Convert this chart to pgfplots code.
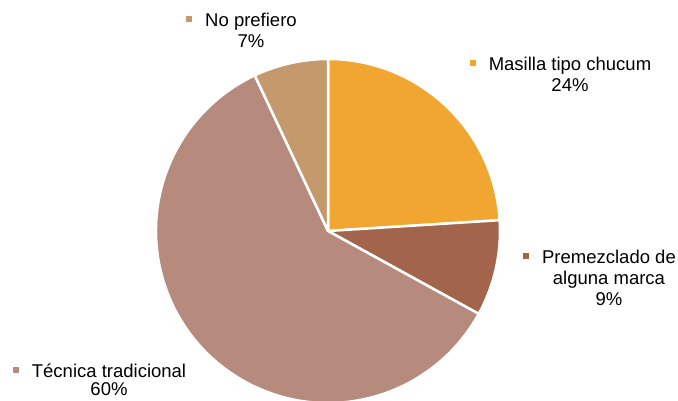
\documentclass[border=0pt]{standalone}
\usepackage{pgfplots}
\pgfplotsset{compat=1.18}
\usepackage{fontspec}
\setmainfont{Liberation Sans}
\definecolor{cA}{HTML}{F0A630}
\definecolor{cB}{HTML}{A3644C}
\definecolor{cC}{HTML}{B68B7E}
\definecolor{cD}{HTML}{C49A6C}
\begin{document}
\begin{tikzpicture}[lbl/.style={anchor=base,font=\fontsize{18.5bp}{22bp}\selectfont,inner sep=0pt}]
\begin{axis}[x=1bp,y=1bp,xmin=0,xmax=678,ymin=0,ymax=401,hide axis,scale only axis,clip=false,anchor=origin,at={(0,0)}]
\addplot[draw=none] coordinates {(0,0) (678,401)};
\def\acc{0}
\pgfplotsforeachungrouped \val/\col in {24/cA,9/cB,60/cC,7/cD}{%
  \pgfmathsetmacro\start{90-3.6*\acc}%
  \pgfmathsetmacro\stop{90-3.6*(\acc+\val)}%
  \edef\tmp{\noexpand\fill[\col,draw=white,line width=2.5bp,line join=round] (axis cs:328,170) -- ++(\start:172bp) arc[start angle=\start,end angle=\stop,radius=172bp] -- cycle;}%
  \tmp
  \pgfmathsetmacro\acc{\acc+\val}%
}
% labels
\node[lbl] (a1) at (axis cs:251,375) {No prefiero};
\node[lbl] at (axis cs:251,354) {7\%};
\node[lbl] (b1) at (axis cs:570,331) {Masilla tipo chucum};
\node[lbl] at (axis cs:570,310) {24\%};
\node[lbl] (c1) at (axis cs:609,138) {Premezclado de};
\node[lbl] at (axis cs:609,117) {alguna marca};
\node[lbl] at (axis cs:609,96) {9\%};
\node[lbl] (d1) at (axis cs:109,24) {Técnica tradicional};
\node[lbl] at (axis cs:109,6) {60\%};
\fill[cD] ([xshift=-13bp,yshift=4bp]a1.base west) rectangle ++(-6bp,6bp);
\fill[cA] ([xshift=-13bp,yshift=4bp]b1.base west) rectangle ++(-6bp,6bp);
\fill[cB] ([xshift=-13bp,yshift=4bp]c1.base west) rectangle ++(-6bp,6bp);
\fill[cC] ([xshift=-13bp,yshift=4bp]d1.base west) rectangle ++(-6bp,6bp);
\end{axis}
\pgfresetboundingbox
\path[use as bounding box] (0,0) rectangle (678bp,401bp);
\end{tikzpicture}
\end{document}
